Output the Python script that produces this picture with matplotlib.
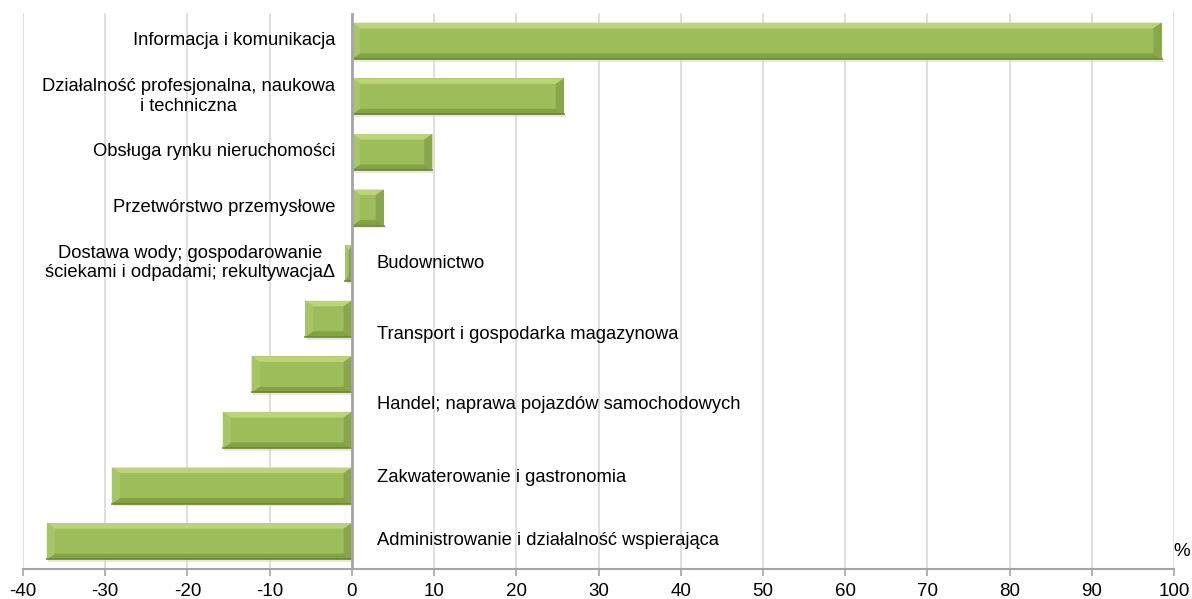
import numpy as np
import matplotlib.pyplot as plt
from matplotlib.patches import Polygon

plt.rcParams['font.family'] = ['Liberation Sans', 'DejaVu Sans']
plt.rcParams['axes.unicode_minus'] = False

# data (percent change), top to bottom
sectors = ["Informacja i komunikacja",
           "Działalność profesjonalna, naukowa\ni techniczna",
           "Obsługa rynku nieruchomości",
           "Przetwórstwo przemysłowe",
           "Dostawa wody; gospodarowanie\nściekami i odpadami; rekultywacjaΔ",
           "Budownictwo",
           "Transport i gospodarka magazynowa",
           "Handel; naprawa pojazdów samochodowych",
           "Zakwaterowanie i gastronomia",
           "Administrowanie i działalność wspierająca"]
values = [98.5, 25.8, 9.8, 3.9, -0.8, -5.7, -12.2, -15.7, -29.2, -37.1]

# where the labels sit (row units, as in the original layout)
label_rows = [0, 1, 2, 3, 4, 4, 5.28, 6.55, 7.86, 8.98]

fig = plt.figure(figsize=(11.92, 5.99), dpi=100)
ax = fig.add_axes([23/1192, 30/599, 1151/1192, 556/599])

ypos = np.arange(len(values))
h = 0.65
bars = ax.barh(ypos, values, height=h, color='#9DBD5A', edgecolor='none', zorder=3)

# bevel look
for b in bars:
    x0 = b.get_x(); w = b.get_width(); y0 = b.get_y(); bh = b.get_height()
    x1 = x0 + w
    xl, xr = min(x0, x1), max(x0, x1)
    ey = 0.10
    ex = min(1.0, (xr - xl) / 2)
    yt, yb = y0, y0 + bh  # inverted axis: y0 is top visually
    # shadow
    ax.add_patch(Polygon([(xl + 0.2, yb), (xr + 0.3, yb), (xr + 0.3, yb + 0.05), (xl + 0.2, yb + 0.05)],
                         closed=True, facecolor='#d0d0d0', edgecolor='none', alpha=0.5, zorder=2))
    # top band
    ax.add_patch(Polygon([(xl, yt), (xr, yt), (xr - ex, yt + ey), (xl + ex, yt + ey)],
                         closed=True, facecolor='#BBD47A', edgecolor='none', zorder=4))
    # bottom band
    ax.add_patch(Polygon([(xl, yb), (xr, yb), (xr - ex, yb - ey), (xl + ex, yb - ey)],
                         closed=True, facecolor='#83A243', edgecolor='none', zorder=4))
    # left end
    ax.add_patch(Polygon([(xl, yt), (xl + ex, yt + ey), (xl + ex, yb - ey), (xl, yb)],
                         closed=True, facecolor='#A8C566', edgecolor='none', zorder=4))
    # right end
    ax.add_patch(Polygon([(xr, yt), (xr - ex, yt + ey), (xr - ex, yb - ey), (xr, yb)],
                         closed=True, facecolor='#88A74A', edgecolor='none', zorder=4))
    # dark outline at bottom
    ax.plot([xl, xr], [yb, yb], color='#6B8733', lw=1.2, zorder=5)

ax.set_xlim(-40, 100)
ax.set_ylim(len(values) - 0.5, -0.5)
ax.set_xticks(np.arange(-40, 101, 10))
ax.set_yticks([])
ax.tick_params(axis='x', length=5, width=1.2, color='#a6a6a6', labelsize=13.5, pad=5)
ax.grid(axis='x', color='#d9d9d9', lw=1.2, zorder=0)
for s in ['top', 'right', 'left']:
    ax.spines[s].set_visible(False)
ax.spines['bottom'].set_color('#a6a6a6')
ax.spines['bottom'].set_linewidth(1.5)
ax.axvline(0, color='#a6a6a6', lw=2, zorder=6)

for i, (lab, v) in enumerate(zip(sectors, values)):
    if i <= 4:
        ax.text(-2.0, label_rows[i], lab, ha='right', va='center', fontsize=13.2,
                multialignment='center', zorder=7)
    else:
        ax.text(3, label_rows[i], lab, ha='left', va='center', fontsize=13.2, zorder=7)

ax.text(102.0, 9.18, '%', ha='right', va='center', fontsize=13.5)

fig.savefig('out.png', dpi=100)
